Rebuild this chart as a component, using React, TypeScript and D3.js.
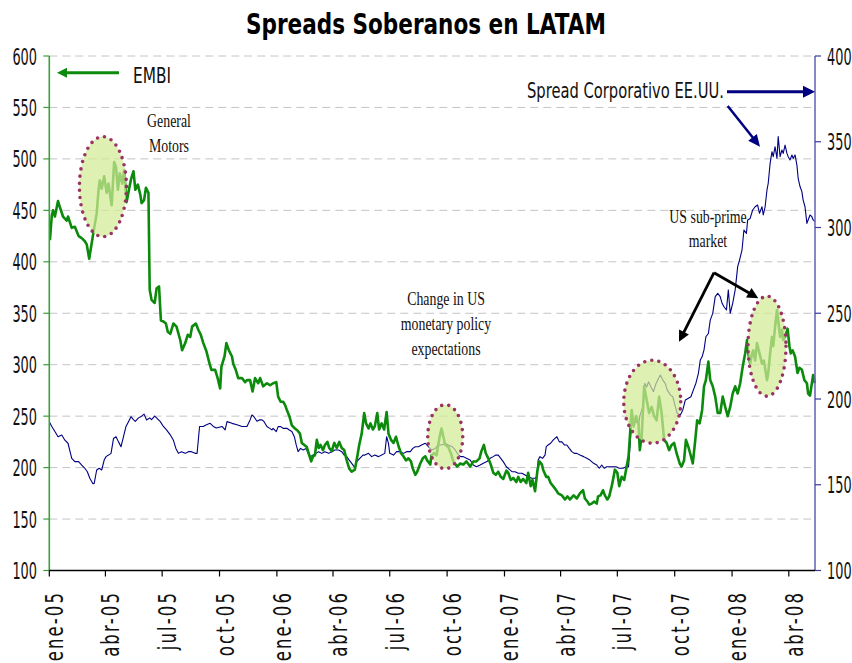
import React from "react";
import * as d3 from "d3";

// ---------- DATA ----------
const title = "Spreads Soberanos en LATAM";

// EMBI LATAM spread (left axis, bp)
const embi: [string, number][] = [
  ["2005-01-02",421],["2005-01-05",445],["2005-01-07",450],["2005-01-10",444],["2005-01-15",459],["2005-01-18",453],["2005-01-23",444],["2005-01-29",440],["2005-01-31",444],["2005-02-06",433],["2005-02-11",434],["2005-02-17",425],["2005-02-22",423],["2005-02-27",420],["2005-03-02",417],["2005-03-06",403],["2005-03-10",418],["2005-03-14",433],["2005-03-18",447],["2005-03-21",470],["2005-03-23",479],["2005-03-26",471],["2005-03-30",483],["2005-04-03",467],["2005-04-06",476],["2005-04-11",455],["2005-04-15",497],["2005-04-18",492],["2005-04-21",470],["2005-04-24",486],["2005-04-28",476],["2005-05-01",489],["2005-05-05",458],["2005-05-09",471],["2005-05-12",480],["2005-05-16",488],["2005-05-19",470],["2005-05-23",475],["2005-05-27",465],["2005-05-29",457],["2005-06-02",460],["2005-06-05",472],["2005-06-09",467],["2005-06-11",373],["2005-06-14",363],["2005-06-19",360],["2005-06-22",374],["2005-06-26",376],["2005-06-29",343],["2005-07-03",342],["2005-07-07",340],["2005-07-10",332],["2005-07-14",330],["2005-07-19",340],["2005-07-24",337],["2005-07-30",324],["2005-08-02",314],["2005-08-07",321],["2005-08-11",329],["2005-08-15",327],["2005-08-18",337],["2005-08-24",340],["2005-08-28",334],["2005-09-01",329],["2005-09-05",321],["2005-09-10",313],["2005-09-15",301],["2005-09-18",295],["2005-09-24",295],["2005-09-28",287],["2005-10-02",277],["2005-10-04",298],["2005-10-09",308],["2005-10-12",321],["2005-10-16",314],["2005-10-21",308],["2005-10-23",301],["2005-10-27",295],["2005-10-31",287],["2005-11-06",287],["2005-11-11",283],["2005-11-14",285],["2005-11-19",285],["2005-11-23",274],["2005-11-27",287],["2005-12-02",282],["2005-12-05",287],["2005-12-10",279],["2005-12-16",282],["2005-12-21",280],["2005-12-26",282],["2005-12-31",283],
  ["2006-01-03",269],["2006-01-07",264],["2006-01-11",264],["2006-01-14",261],["2006-01-17",256],["2006-01-21",250],["2006-01-25",241],["2006-01-30",238],["2006-02-03",236],["2006-02-07",233],["2006-02-10",224],["2006-02-14",222],["2006-02-18",220],["2006-02-22",212],["2006-02-25",206],["2006-02-28",211],["2006-03-03",212],["2006-03-06",227],["2006-03-09",219],["2006-03-12",222],["2006-03-16",217],["2006-03-19",222],["2006-03-23",225],["2006-03-26",219],["2006-03-30",216],["2006-04-03",224],["2006-04-07",219],["2006-04-11",225],["2006-04-15",219],["2006-04-19",217],["2006-04-23",207],["2006-04-27",199],["2006-05-01",196],["2006-05-06",198],["2006-05-10",211],["2006-05-13",222],["2006-05-17",233],["2006-05-21",253],["2006-05-24",243],["2006-05-28",238],["2006-05-31",243],["2006-06-04",237],["2006-06-07",240],["2006-06-11",253],["2006-06-14",237],["2006-06-18",243],["2006-06-22",237],["2006-06-26",254],["2006-06-29",233],["2006-07-03",227],["2006-07-07",224],["2006-07-11",230],["2006-07-15",221],["2006-07-19",214],["2006-07-23",211],["2006-07-27",207],["2006-07-31",209],["2006-08-04",206],["2006-08-07",199],["2006-08-11",193],["2006-08-14",196],["2006-08-19",204],["2006-08-23",209],["2006-08-27",211],["2006-08-30",207],["2006-09-04",203],["2006-09-06",212],["2006-09-10",214],["2006-09-14",212],["2006-09-19",230],["2006-09-22",238],["2006-09-28",222],["2006-10-03",220],["2006-10-07",214],["2006-10-11",206],["2006-10-17",201],["2006-10-22",204],["2006-10-27",203],["2006-11-01",206],["2006-11-07",201],["2006-11-12",206],["2006-11-17",206],["2006-11-22",209],["2006-11-25",216],["2006-11-29",222],["2006-12-02",214],["2006-12-06",209],["2006-12-10",203],["2006-12-14",195],["2006-12-18",193],["2006-12-22",196],["2006-12-26",191],["2006-12-30",189],
  ["2007-01-04",197],["2007-01-07",195],["2007-01-11",188],["2007-01-15",190],["2007-01-20",186],["2007-01-23",191],["2007-01-27",186],["2007-01-31",189],["2007-02-05",185],["2007-02-08",195],["2007-02-12",182],["2007-02-15",188],["2007-02-19",177],["2007-02-23",198],["2007-02-26",206],["2007-03-02",203],["2007-03-04",198],["2007-03-09",191],["2007-03-12",191],["2007-03-16",185],["2007-03-20",182],["2007-03-25",178],["2007-03-28",175],["2007-04-03",173],["2007-04-08",169],["2007-04-12",172],["2007-04-16",169],["2007-04-22",173],["2007-04-27",170],["2007-05-02",175],["2007-05-07",178],["2007-05-10",170],["2007-05-14",167],["2007-05-17",164],["2007-05-21",165],["2007-05-25",167],["2007-05-29",165],["2007-05-31",172],["2007-06-04",173],["2007-06-08",178],["2007-06-11",173],["2007-06-15",169],["2007-06-18",172],["2007-06-22",182],["2007-06-25",191],["2007-06-27",198],["2007-07-01",195],["2007-07-04",182],["2007-07-08",191],["2007-07-12",188],["2007-07-15",198],["2007-07-19",211],["2007-07-24",256],["2007-07-27",240],["2007-07-31",250],["2007-08-04",243],["2007-08-06",217],["2007-08-09",230],["2007-08-13",279],["2007-08-17",266],["2007-08-21",253],["2007-08-25",259],["2007-08-29",250],["2007-09-02",246],["2007-09-06",269],["2007-09-10",253],["2007-09-14",227],["2007-09-18",224],["2007-09-22",217],["2007-09-26",222],["2007-09-30",224],["2007-10-04",214],["2007-10-09",204],["2007-10-12",201],["2007-10-16",207],["2007-10-19",227],["2007-10-23",220],["2007-10-27",211],["2007-10-30",204],["2007-11-03",227],["2007-11-06",246],["2007-11-10",243],["2007-11-14",256],["2007-11-17",279],["2007-11-20",285],["2007-11-24",303],["2007-11-27",285],["2007-12-01",279],["2007-12-05",269],["2007-12-09",253],["2007-12-13",253],["2007-12-17",269],["2007-12-21",259],["2007-12-25",250],["2007-12-29",259],
  ["2008-01-02",272],["2008-01-06",279],["2008-01-10",272],["2008-01-14",282],["2008-01-18",298],["2008-01-22",311],["2008-01-25",324],["2008-01-27",311],["2008-01-30",301],["2008-02-02",311],["2008-02-04",314],["2008-02-07",304],["2008-02-10",321],["2008-02-14",311],["2008-02-18",301],["2008-02-21",304],["2008-02-26",285],["2008-02-28",292],["2008-03-02",311],["2008-03-05",327],["2008-03-07",318],["2008-03-10",337],["2008-03-13",353],["2008-03-15",343],["2008-03-18",327],["2008-03-21",334],["2008-03-23",324],["2008-03-26",327],["2008-03-30",335],["2008-04-02",318],["2008-04-04",311],["2008-04-07",314],["2008-04-11",308],["2008-04-15",292],["2008-04-18",297],["2008-04-22",295],["2008-04-26",285],["2008-04-30",282],["2008-05-02",272],["2008-05-05",270],["2008-05-08",282],["2008-05-10",290],["2008-05-13",282],
];

// US corporate spread (right axis, bp)
const corp: [string, number][] = [
  ["2005-01-01",186.8],["2005-01-05",184],["2005-01-10",181],["2005-01-15",178],["2005-01-21",179],["2005-01-26",176],["2005-01-31",174.2],["2005-02-06",165.4],["2005-02-11",163.5],["2005-02-17",163.5],["2005-02-22",161.5],["2005-02-27",159.6],["2005-03-03",157.6],["2005-03-07",153.8],["2005-03-12",150.6],["2005-03-14",150.8],["2005-03-18",158.6],["2005-03-22",159.6],["2005-03-26",158.6],["2005-03-30",164.4],["2005-04-02",166.4],["2005-04-06",167.3],["2005-04-10",168.3],["2005-04-14",177],["2005-04-18",178],["2005-04-22",175],["2005-04-26",172.2],["2005-04-30",178],["2005-05-04",184],["2005-05-08",186.8],["2005-05-12",189.7],["2005-05-16",188],["2005-05-19",187],["2005-05-24",189],["2005-05-29",190],["2005-06-02",191.2],["2005-06-06",187.8],["2005-06-11",189],["2005-06-14",188],["2005-06-19",190],["2005-06-22",189],["2005-06-28",186.8],["2005-07-03",184],["2005-07-08",182],["2005-07-14",179.1],["2005-07-19",176],["2005-07-23",171.2],["2005-07-27",168.3],["2005-08-01",169.3],["2005-08-07",168.3],["2005-08-12",169.3],["2005-08-17",169.3],["2005-08-23",168.3],["2005-08-26",168.3],["2005-08-30",184],["2005-09-05",184],["2005-09-10",185],["2005-09-16",185.8],["2005-09-21",184],["2005-09-26",183.1],["2005-10-05",184],["2005-10-10",182],["2005-10-13",186.8],["2005-10-21",185.8],["2005-10-29",185],["2005-11-06",184],["2005-11-14",184],["2005-11-19",187.8],["2005-11-22",190.7],["2005-11-25",189.8],["2005-11-30",187],["2005-12-04",187.8],["2005-12-08",187.8],["2005-12-11",187],["2005-12-16",184],["2005-12-20",183],["2005-12-24",182],["2005-12-26",182.9],["2005-12-31",181],
  ["2006-01-03",183.9],["2006-01-07",183.9],["2006-01-11",182.9],["2006-01-17",182.9],["2006-01-21",181.9],["2006-01-25",181],["2006-01-29",178],["2006-02-01",173.2],["2006-02-04",169.3],["2006-02-08",171.2],["2006-02-12",170.3],["2006-02-17",171.2],["2006-02-20",168.3],["2006-02-24",166.4],["2006-02-28",167.3],["2006-03-05",168.3],["2006-03-09",169.3],["2006-03-14",168.3],["2006-03-19",169.3],["2006-03-25",168.3],["2006-03-30",169.3],["2006-04-04",170.3],["2006-04-10",170.3],["2006-04-15",169.3],["2006-04-19",167.3],["2006-04-23",166.4],["2006-04-27",164.4],["2006-05-01",162.5],["2006-05-06",160],["2006-05-09",163.5],["2006-05-14",165.4],["2006-05-19",167.3],["2006-05-22",167.3],["2006-05-28",168.3],["2006-06-02",166.4],["2006-06-07",167.3],["2006-06-13",166.4],["2006-06-18",167.3],["2006-06-23",168.3],["2006-06-26",178],["2006-06-29",174],["2006-07-01",168.3],["2006-07-07",167.3],["2006-07-12",169.3],["2006-07-18",169.3],["2006-07-23",168.3],["2006-07-28",169.3],["2006-08-03",169.3],["2006-08-07",171.2],["2006-08-11",172.2],["2006-08-16",172.2],["2006-08-21",173.2],["2006-08-27",174.2],["2006-09-01",172.2],["2006-09-06",170.3],["2006-09-12",171.2],["2006-09-17",173.2],["2006-09-22",173.2],["2006-09-28",174.2],["2006-10-03",173.2],["2006-10-09",172.2],["2006-10-14",170.3],["2006-10-19",167.3],["2006-10-23",166.4],["2006-10-27",166.4],["2006-11-01",165.4],["2006-11-07",164.4],["2006-11-12",161.5],["2006-11-17",160.5],["2006-11-23",161.5],["2006-11-28",162.5],["2006-12-04",163.5],["2006-12-09",165.4],["2006-12-14",166.4],["2006-12-18",167.3],["2006-12-22",167.3],["2006-12-26",165.4],["2006-12-30",163.5],
  ["2007-01-04",160.5],["2007-01-07",159.6],["2007-01-13",157.6],["2007-01-18",157.6],["2007-01-23",156.7],["2007-01-29",156.7],["2007-02-03",155.7],["2007-02-08",154.7],["2007-02-14",153.8],["2007-02-19",153.8],["2007-02-22",154.7],["2007-02-24",164.4],["2007-02-27",166.4],["2007-03-03",165.4],["2007-03-07",167.3],["2007-03-09",172.2],["2007-03-12",173.2],["2007-03-16",174.2],["2007-03-20",176],["2007-03-23",177],["2007-03-26",178],["2007-03-30",175],["2007-04-03",175],["2007-04-07",173.2],["2007-04-11",173.2],["2007-04-15",171.2],["2007-04-19",169.3],["2007-04-23",168.3],["2007-04-27",168.3],["2007-05-02",167.3],["2007-05-08",166.4],["2007-05-13",165.4],["2007-05-18",164.4],["2007-05-24",162.5],["2007-05-29",161.5],["2007-06-02",159.6],["2007-06-06",161.5],["2007-06-10",159.6],["2007-06-14",160.5],["2007-06-18",160.5],["2007-06-24",160.5],["2007-06-29",160.5],["2007-07-04",159.6],["2007-07-10",159.6],["2007-07-15",160.5],["2007-07-19",160.5],["2007-07-22",176],["2007-07-24",187.8],["2007-07-27",186],["2007-07-31",187],["2007-08-04",185],["2007-08-06",190],["2007-08-11",195.5],["2007-08-14",209.2],["2007-08-17",207],["2007-08-20",210],["2007-08-24",207],["2007-08-28",204.3],["2007-09-01",209],["2007-09-05",212],["2007-09-08",214],["2007-09-12",211],["2007-09-16",209],["2007-09-19",205.3],["2007-09-24",202.4],["2007-09-28",201.3],["2007-10-02",195.5],["2007-10-05",191.7],["2007-10-10",190.7],["2007-10-14",193.6],["2007-10-18",199.4],["2007-10-23",200.4],["2007-10-27",201.3],["2007-10-31",205.3],["2007-11-04",209.2],["2007-11-08",215],["2007-11-11",222.7],["2007-11-14",224.6],["2007-11-17",228.6],["2007-11-20",236.3],["2007-11-24",238.2],["2007-11-27",246],["2007-12-01",249.9],["2007-12-05",259.7],["2007-12-09",261.6],["2007-12-13",259.7],["2007-12-16",255.8],["2007-12-19",253.8],["2007-12-23",251.9],["2007-12-26",263.6],["2007-12-29",250],
  ["2008-01-02",255.8],["2008-01-06",263.6],["2008-01-10",277.2],["2008-01-13",281],["2008-01-17",287],["2008-01-20",298.5],["2008-01-24",296.6],["2008-01-26",304.4],["2008-01-30",305.3],["2008-02-03",310.2],["2008-02-07",312.1],["2008-02-11",313.1],["2008-02-14",308.3],["2008-02-18",312.1],["2008-02-20",307.3],["2008-02-23",312.1],["2008-02-26",321.9],["2008-02-28",325.8],["2008-03-02",337.4],["2008-03-05",344.2],["2008-03-07",341.3],["2008-03-10",347.1],["2008-03-13",340.3],["2008-03-15",353],["2008-03-18",341.3],["2008-03-21",345.2],["2008-03-23",343.2],["2008-03-26",348.1],["2008-03-29",343.2],["2008-03-31",341.3],["2008-04-03",339.4],["2008-04-06",342.3],["2008-04-08",340.3],["2008-04-11",342.3],["2008-04-14",336.4],["2008-04-16",328.7],["2008-04-19",323.9],["2008-04-22",320.9],["2008-04-24",316],["2008-04-27",312.1],["2008-04-30",302.4],["2008-05-02",304.4],["2008-05-05",307.3],["2008-05-08",306.3],["2008-05-10",304.4],["2008-05-13",303.4],
];

const leftTicks = [100, 150, 200, 250, 300, 350, 400, 450, 500, 550, 600];
const rightTicks = [100, 150, 200, 250, 300, 350, 400];
const xTickDates = ["2005-01-01","2005-04-01","2005-07-01","2005-10-01","2006-01-01","2006-04-01","2006-07-01","2006-10-01","2007-01-01","2007-04-01","2007-07-01","2007-10-01","2008-01-01","2008-04-01"];
const xTickLabels = ["ene-05","abr-05","jul-05","oct-05","ene-06","abr-06","jul-06","oct-06","ene-07","abr-07","jul-07","oct-07","ene-08","abr-08"];
const xDomain = ["2005-01-01", "2008-05-13"];

// highlighted episodes: centre date / EMBI level
const highlightDates = ["2005-03-28", "2006-09-28", "2007-08-26", "2008-02-26"];
const highlightLevels = [473, 230, 264, 318];
const highlightRadii: [number, number][] = [[23.5, 50], [17.5, 32], [28.5, 41.5], [19, 50]];

const legendEmbi = "EMBI";
const legendCorp = "Spread Corporativo EE.UU.";
const noteGM = ["General", "Motors"];
const noteFed = ["Change in US", "monetary policy", "expectations"];
const noteSub = ["US sub-prime", "market"];

// ---------- LAYOUT ----------
const W = 852, H = 663;
const X0 = 49.3, X1 = 815, YT = 56, YB = 570.5;
const GREEN = "#0b8a0b";
const NAVY = "#000080";
const SANS = "'DejaVu Sans', Verdana, sans-serif";
const SERIF = "'Liberation Serif', 'Times New Roman', serif";

function Arrow({ x1, y1, x2, y2, color, width, headLen, headW }: any) {
  const dx = x2 - x1, dy = y2 - y1;
  const len = Math.sqrt(dx * dx + dy * dy);
  const ux = dx / len, uy = dy / len;
  const bx = x2 - ux * headLen, by = y2 - uy * headLen;
  const px = -uy * headW, py = ux * headW;
  return (
    <g>
      <line x1={x1} y1={y1} x2={bx + ux * 1} y2={by + uy * 1} stroke={color} strokeWidth={width} />
      <polygon points={`${x2},${y2} ${bx + px},${by + py} ${bx - px},${by - py}`} fill={color} />
    </g>
  );
}

export default function App() {
  const parse = d3.timeParse("%Y-%m-%d");
  const x = d3.scaleTime().domain([parse(xDomain[0])!, parse(xDomain[1])!]).range([X0, X1]);
  const yL = d3.scaleLinear().domain([100, 600]).range([YB, YT]);
  const yR = d3.scaleLinear().domain([100, 400]).range([YB, YT]);

  const lineL = d3.line<[string, number]>().x(d => x(parse(d[0])!)).y(d => yL(d[1]));
  const lineR = d3.line<[string, number]>().x(d => x(parse(d[0])!)).y(d => yR(d[1]));

  return (
    <svg width={W} height={H} style={{ position: "absolute", left: 0, top: 0, background: "#fff" }}>
      <rect x={0} y={0} width={W} height={H} fill="#fff" />
      {/* title */}
      <text x={426} y={34} textAnchor="middle" fontFamily={SANS} fontWeight="bold" fontSize={29}
        textLength={360} lengthAdjust="spacingAndGlyphs" fill="#000">{title}</text>

      {/* grid */}
      {leftTicks.filter(t => t > 100).map(t => (
        <line key={"g" + t} x1={X0} x2={X1} y1={yL(t)} y2={yL(t)} stroke="#c4c4c4" strokeWidth={1} strokeDasharray="8 5" />
      ))}

      <defs>
        <clipPath id="plotclip"><rect x={X0} y={YT - 2} width={X1 - X0 + 1} height={YB - YT + 2} /></clipPath>
      </defs>

      {/* series */}
      <g clipPath="url(#plotclip)">
        <path d={lineR(corp) || ""} fill="none" stroke={NAVY} strokeWidth={1.1} strokeLinejoin="round" />
        <path d={lineL(embi) || ""} fill="none" stroke={GREEN} strokeWidth={2.6} strokeLinejoin="round" />
      </g>

      {/* highlight ellipses */}
      {highlightDates.map((d, i) => (
        <ellipse key={"e" + i} cx={x(parse(d)!)} cy={yL(highlightLevels[i])} rx={highlightRadii[i][0]} ry={highlightRadii[i][1]}
          fill="#d2ea96" fillOpacity={0.72} stroke="#993366" strokeWidth={3.6} strokeDasharray="0 7.2" strokeLinecap="round" />
      ))}

      {/* left axis */}
      <line x1={X0} x2={X0} y1={YT} y2={YB} stroke="#3aa03a" strokeWidth={1.6} />
      {leftTicks.map(t => (
        <g key={"l" + t}>
          <line x1={X0 - 6} x2={X0} y1={yL(t)} y2={yL(t)} stroke="#3aa03a" strokeWidth={1.2} />
          <text transform={`translate(37,${yL(t) + 8.5}) scale(0.56,1)`} textAnchor="end" fontFamily={SANS} fontSize={23} fill="#111">{t}</text>
        </g>
      ))}

      {/* right axis */}
      <line x1={X1} x2={X1} y1={YT} y2={YB} stroke="#6a6ab8" strokeWidth={1.6} />
      {rightTicks.map(t => (
        <g key={"r" + t}>
          <line x1={X1} x2={X1 + 6} y1={yR(t)} y2={yR(t)} stroke="#3a3a9a" strokeWidth={1.2} />
          <text transform={`translate(827,${yR(t) + 8.5}) scale(0.56,1)`} textAnchor="start" fontFamily={SANS} fontSize={23} fill="#111">{t}</text>
        </g>
      ))}

      {/* bottom axis */}
      <line x1={X0} x2={X1} y1={YB} y2={YB} stroke="#000" strokeWidth={1.4} />
      {xTickDates.map((d, i) => {
        const px = x(parse(d)!);
        return (
          <g key={"x" + i}>
            <line x1={px} x2={px} y1={YB} y2={YB + 6} stroke="#000" strokeWidth={1.2} />
            <text transform={`translate(${px + 14},591) rotate(-90) scale(0.69,1)`} textAnchor="end" fontFamily={SANS}
              fontSize={24} letterSpacing={3} fill="#111">{xTickLabels[i]}</text>
          </g>
        );
      })}

      {/* legend: EMBI */}
      <Arrow x1={119} y1={72.7} x2={57} y2={72.7} color={GREEN} width={3} headLen={10} headW={5} />
      <text x={133} y={82.7} fontFamily={SANS} fontSize={22} textLength={38} lengthAdjust="spacingAndGlyphs" fill="#111">{legendEmbi}</text>

      {/* legend: corporate */}
      <text x={527} y={98.3} fontFamily={SANS} fontSize={22} textLength={197} lengthAdjust="spacingAndGlyphs" fill="#111">{legendCorp}</text>
      <Arrow x1={727} y1={91.7} x2={815} y2={91.7} color={NAVY} width={3} headLen={12} headW={6} />
      <Arrow x1={727.7} y1={106} x2={760} y2={146.7} color={NAVY} width={2.5} headLen={12} headW={5.5} />

      {/* notes */}
      {noteGM.map((s, i) => (
        <text key={"gm" + i} transform={`translate(169,${127 + i * 24.5}) scale(0.71,1)`} textAnchor="middle" fontFamily={SERIF} fontSize={19.5} fill="#111">{s}</text>
      ))}
      {noteFed.map((s, i) => (
        <text key={"fed" + i} transform={`translate(446,${305 + i * 25}) scale(0.71,1)`} textAnchor="middle" fontFamily={SERIF} fontSize={19.5} fill="#111">{s}</text>
      ))}
      {noteSub.map((s, i) => (
        <text key={"sub" + i} transform={`translate(708,${222.7 + i * 24}) scale(0.71,1)`} textAnchor="middle" fontFamily={SERIF} fontSize={19.5} fill="#111">{s}</text>
      ))}
      <Arrow x1={714} y1={272.7} x2={679} y2={341.7} color="#000" width={2.8} headLen={11} headW={5.5} />
      <Arrow x1={714} y1={272.7} x2={758.3} y2={298.3} color="#000" width={2.8} headLen={11} headW={5.5} />
    </svg>
  );
}
